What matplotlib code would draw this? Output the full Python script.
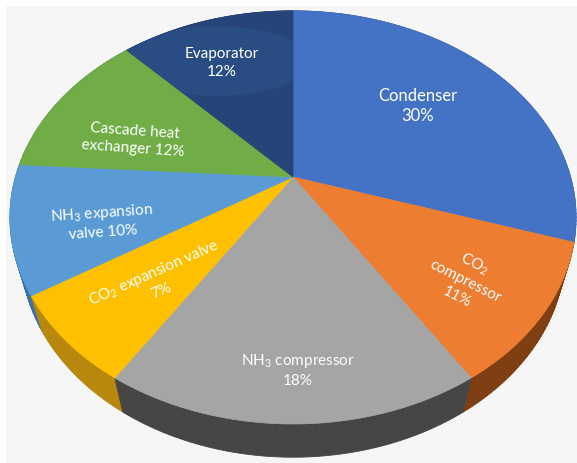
import numpy as np
import matplotlib.pyplot as plt
from matplotlib.patches import Polygon, Rectangle, Ellipse

plt.rcParams["mathtext.fontset"] = "custom"
plt.rcParams["mathtext.rm"] = "Lato"

# slice data, clockwise from 12 o'clock
labels = [
    "Condenser\n30%",
    "CO$_\\mathregular{2}$\ncompressor\n11%",
    "NH$_\\mathregular{3}$ compressor\n18%",
    "CO$_\\mathregular{2}$ expansion valve\n7%",
    "NH$_\\mathregular{3}$ expansion\nvalve 10%",
    "Cascade heat\nexchanger 12%",
    "Evaporator\n12%",
]
shares = [30, 11, 18, 7, 10, 12, 12]
top_colors = ["#4472C4", "#ED7D31", "#A5A5A5", "#FFC000", "#5B9BD5", "#70AD47", "#264478"]
side_colors = ["#2F5597", "#7E3E12", "#454545", "#B8870B", "#3A73A8", "#4E7A31", "#1A3054"]

# label placement in pixels (x, y, rotation, fontsize)
label_pos = [
    (418, 106, 0, 12),
    (466, 280, -27, 11),
    (298, 370, 0, 11),
    (157, 281, 24, 11),
    (102, 222, 4, 11),
    (134, 140, -4, 11),
    (222, 63, 0, 11),
]

W, H = 577, 464
CX, CY = 293, 178
F = 991.0
D = 3.57
ELEV = np.radians(45.7)
S, C = np.sin(ELEV), np.cos(ELEV)
DEPTH = 0.194


def proj(u, v, z=0.0):
    # simple perspective camera looking down on the pie
    Y = v * S + z * C
    dist = D + v * C - z * S
    return CX + F * u / dist, CY - F * Y / dist


def arc(a0, a1, z=0.0, n=120):
    t = np.radians(np.linspace(a0, a1, n))
    x, y = proj(np.cos(t), np.sin(t), z)
    return np.column_stack([x, y])


fig = plt.figure(figsize=(W / 100, H / 100), dpi=100)
fig.patch.set_facecolor("white")
ax = fig.add_axes([0, 0, 1, 1])
ax.set_xlim(0, W)
ax.set_ylim(H, 0)
ax.axis("off")
ax.add_patch(Rectangle((6, 7), W, H, facecolor="#F6F6F6", edgecolor="none"))

# slice start/end angles
bounds = []
a = 90.0
for share in shares:
    b = a - share * 3.6
    bounds.append((a, b))
    a = b

# side walls, far segments first
segments = []
for (a0, a1), col in zip(bounds, side_colors):
    steps = np.linspace(a0, a1, int(abs(a1 - a0)) + 2)
    for s0, s1 in zip(steps[:-1], steps[1:]):
        top = arc(s0, s1, 0.0, 3)
        bot = arc(s1, s0, -DEPTH, 3)
        mid = np.radians((s0 + s1) / 2)
        segments.append((np.sin(mid), np.vstack([top, bot]), col))
segments.sort(key=lambda item: -item[0])
for _, pts, col in segments:
    ax.add_patch(Polygon(pts, closed=True, facecolor=col, edgecolor=col, linewidth=0.6))

# top faces
center = np.array([proj(0, 0)])
faces = []
for (a0, a1), col in zip(bounds, top_colors):
    pts = np.vstack([center, arc(a0, a1)])
    face = Polygon(pts, closed=True, facecolor=col, edgecolor=col, linewidth=0.5)
    ax.add_patch(face)
    faces.append(face)

# lighter patch behind the evaporator label
glow = Ellipse((215, 62), 190, 70, facecolor="#2B4F86", edgecolor="none", alpha=0.8)
ax.add_patch(glow)
glow.set_clip_path(faces[-1])

for text, (x, y, rot, fs) in zip(labels, label_pos):
    ax.text(x, y, text, color="white", fontsize=fs, family=["Lato", "DejaVu Sans"],
            ha="center", va="center", multialignment="center",
            rotation=rot, rotation_mode="anchor", linespacing=1.35)

fig.savefig("out.png", dpi=100, facecolor=fig.get_facecolor())
